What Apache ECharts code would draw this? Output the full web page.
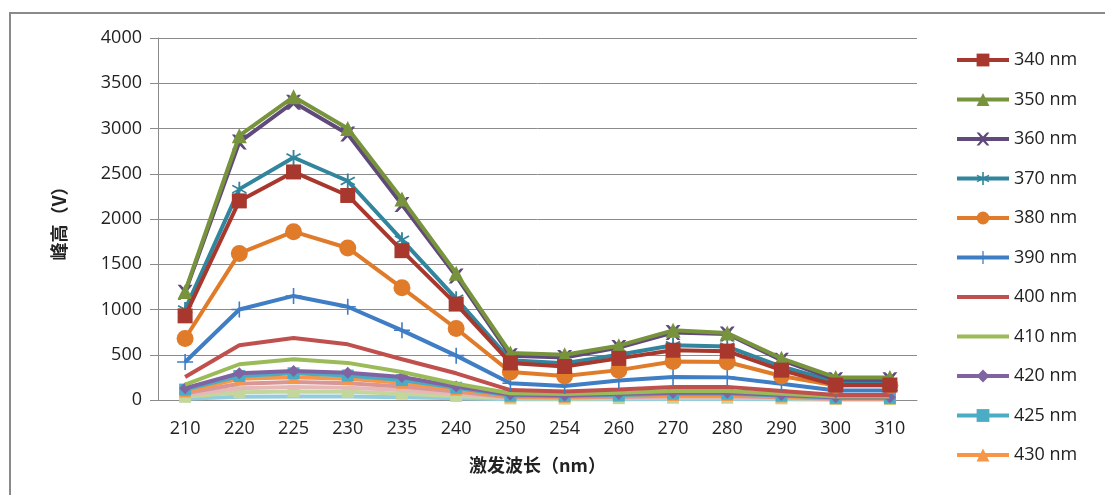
<!DOCTYPE html>
<html><head><meta charset="utf-8">
<script src="https://cdn.jsdelivr.net/npm/echarts@6/dist/echarts.min.js"></script>
<style>html,body{margin:0;padding:0;background:#fff}#c{width:1105px;height:495px}</style>
</head><body><div id="c"></div>
<script>
const categories = ['210','220','225','230','235','240','250','254','260','270','280','290','300','310'];
const names = ['340 nm','350 nm','360 nm','370 nm','380 nm','390 nm','400 nm','410 nm','420 nm','425 nm','430 nm','440 nm','450 nm','460 nm','470 nm'];
const s340 = [930,2200,2520,2260,1650,1060,410,370,460,550,540,330,165,165];
const s350 = [1200,2920,3350,3000,2220,1400,520,500,600,770,740,460,250,250];
const s360 = [1190,2850,3290,2940,2160,1370,490,470,580,745,730,440,225,225];
const s370 = [1000,2330,2680,2420,1770,1120,440,405,500,605,590,370,200,200];
const s380 = [680,1620,1860,1680,1240,790,310,265,330,425,420,265,160,160];
const s390 = [420,1000,1150,1030,770,490,185,155,215,255,250,180,105,105];
const s400 = [255,605,685,615,450,295,110,95,115,145,145,100,55,55];
const s410 = [170,395,450,410,310,180,75,65,80,100,100,70,40,40];
const s420 = [130,295,320,300,255,150,60,50,65,80,80,55,30,30];
const s425 = [115,265,295,270,220,135,50,45,55,70,70,50,25,25];
const s430 = [95,235,250,235,190,115,40,35,45,55,55,40,20,20];
const s440 = [75,180,200,185,150,95,30,28,35,45,45,30,15,15];
const s450 = [55,130,145,135,110,70,25,22,28,35,35,25,12,12];
const s460 = [35,85,95,90,70,45,18,15,20,25,25,18,10,10];
const s470 = [15,35,40,38,30,20,8,7,9,11,11,8,5,5];
const seriesValues = [s340,s350,s360,s370,s380,s390,s400,s410,s420,s425,s430,s440,s450,s460,s470];
const legendNames = names.slice(0, 11);

const X = 'path://M0,0L2,0L5,3L8,0L10,0L6,5L10,10L8,10L5,7L2,10L0,10L4,5Z';
const AST = 'path://M4.4,0h1.2v4.2l3.6,-2.1l0.6,1l-3.6,2.1l3.6,2.1l-0.6,1l-3.6,-2.1v4.2h-1.2v-4.2l-3.6,2.1l-0.6,-1l3.6,-2.1l-3.6,-2.1l0.6,-1l3.6,2.1Z';
const PLUS = 'path://M4.5,0h1v4.5h4.5v1h-4.5v4.5h-1v-4.5h-4.5v-1h4.5Z';
const LINE_ICON = 'path://M0,0h52v4h-52z';
const styles = [
  {c:'#A8382E', s:'rect', z:15},
  {c:'#77933C', s:'triangle', z:15},
  {c:'#604A7B', s:X, z:15},
  {c:'#31859C', s:AST, z:15},
  {c:'#E07B2A', s:'circle', z:17},
  {c:'#3F7DC4', s:PLUS, z:16},
  {c:'#C0504D', s:'none', z:0},
  {c:'#9BBB59', s:'none', z:0},
  {c:'#8064A2', s:'diamond', z:12},
  {c:'#4BACC6', s:'rect', z:12},
  {c:'#F79646', s:'triangle', z:12},
  {c:'#D99694', s:'none', z:0},
  {c:'#E6B9B8', s:'none', z:0},
  {c:'#C3D69B', s:'rect', z:12},
  {c:'#93CDDD', s:'none', z:0}
];

const series = names.map((n,i)=>({
  name:n, type:'line', data:seriesValues[i],
  symbol:styles[i].s, symbolSize:styles[i].z, showSymbol:styles[i].s!=='none',
  lineStyle:{color:styles[i].c, width:4},
  itemStyle:{color:styles[i].c},
  z: 20 - i,
  emphasis:{disabled:true}
}));

const legendData = legendNames.map((n,i)=> styles[i].s==='none' ? {name:n, icon:LINE_ICON} : {name:n});

const chart = echarts.init(document.getElementById('c'), null, {renderer:'canvas'});
chart.setOption({
  backgroundColor:'#fff',
  animation:false,
  graphic:[{type:'rect', shape:{x:10,y:13,width:1100,height:490}, style:{fill:'none', stroke:'#8a8a8a', lineWidth:2}, z:-10}],
  grid:{left:158, right:188, top:38, bottom:95},
  legend:{
    data:legendData, orient:'vertical', left:950, top:46,
    itemWidth:52, itemHeight:16, itemGap:21.5,
    lineStyle:{width:4},
    textStyle:{fontFamily:'Open Sans', fontSize:18, color:'#222'}
  },
  xAxis:{
    type:'category', data:categories, boundaryGap:true,
    axisLine:{show:true, lineStyle:{color:'#8a8a8a', width:1}},
    axisTick:{show:false},
    axisLabel:{fontFamily:'Open Sans', fontSize:18, color:'#222', margin:20},
    name:'激发波长（nm）', nameLocation:'middle', nameGap:56,
    nameTextStyle:{fontFamily:'Noto Sans CJK SC', fontSize:18, color:'#222', fontWeight:'bold'}
  },
  yAxis:{
    type:'value', min:0, max:4000, interval:500,
    axisLine:{show:true, lineStyle:{color:'#8a8a8a', width:1}},
    axisTick:{show:true, length:8, lineStyle:{color:'#8a8a8a'}},
    splitLine:{lineStyle:{color:'#8a8a8a', width:1}},
    axisLabel:{fontFamily:'Open Sans', fontSize:18, color:'#222', margin:16, formatter:v=>String(v)},
    name:'峰高（V）', nameLocation:'middle', nameGap:90, nameRotate:90,
    nameTextStyle:{fontFamily:'Noto Sans CJK SC', fontSize:18, color:'#222', fontWeight:'bold'}
  },
  series:series
});
</script></body></html>
